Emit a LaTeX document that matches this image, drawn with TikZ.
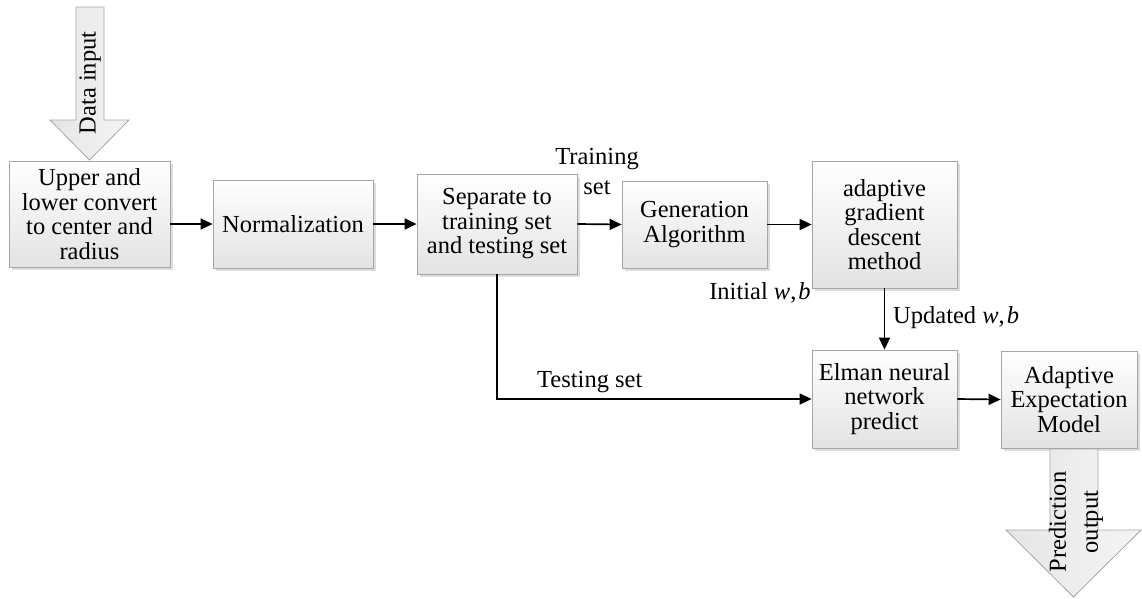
\documentclass[tikz,border=0pt]{standalone}
\usepackage{fontspec}
\setmainfont{Liberation Serif}
\usetikzlibrary{arrows.meta,shadows}

\tikzset{
  procbox/.style={draw=black!35, line width=0.8pt, top color=white, bottom color=black!11,
    drop shadow={shadow xshift=3pt, shadow yshift=-3pt, fill=black!22, opacity=0.6},
    align=center, inner sep=0pt, font=\fontsize{24.5}{24.5}\selectfont},
  flow/.style={line width=1.7pt, -{Triangle[length=12pt,width=11pt]}},
  bigarrow/.style={draw=black!35, line width=0.8pt, left color=black!10, right color=black!4},
  lbl/.style={inner sep=0pt, font=\fontsize{24.5}{30}\selectfont, align=center},
}
\newcommand{\wb}{\textit{w},\kern2pt\textit{b}}

\begin{document}
\begin{tikzpicture}[x=1pt, y=-1pt]
\useasboundingbox (0,0) rectangle (1142,598);

% process boxes
\node[procbox, minimum width=161pt, minimum height=106pt] (b1) at (89.5,214)
  {Upper and\\lower convert\\to center and\\radius};
\node[procbox, minimum width=160pt, minimum height=88pt] (b2) at (293,224) {Normalization};
\node[procbox, minimum width=160pt, minimum height=100pt] (b3) at (497,224)
  {Separate to\\training set\\and testing set};
\node[procbox, minimum width=145pt, minimum height=87pt] (b4) at (694.5,224.5)
  {Generation\\Algorithm};
\node[procbox, minimum width=145pt, minimum height=127pt] (b5) at (884.5,224.5)
  {adaptive\\gradient\\descent\\method};
\node[procbox, minimum width=145pt, minimum height=98pt] (b6) at (884.5,399)
  {Elman neural\\network\\predict};
\node[procbox, minimum width=136pt, minimum height=97pt] (b7) at (1069,399.5)
  {Adaptive\\Expectation\\Model};

% input and output block arrows
\draw[bigarrow] (76,7) -- (104,7) -- (104,120) -- (129,120) -- (89.5,160)
  -- (50,120) -- (76,120) -- cycle;
\node[lbl, rotate=90] (din) at (90,83) {Data input};
\draw[bigarrow] (1050,449) -- (1098,449) -- (1098,530) -- (1141,530) -- (1073.5,597)
  -- (1006,530) -- (1050,530) -- cycle;
\node[lbl, rotate=90, font=\fontsize{24.5}{32}\selectfont] (dout) at (1076,522) {Prediction\\output};

% connectors
\draw[flow] (b1.east |- b2.west) -- (b2.west);
\draw[flow] (b2.east) -- (b3.west);
\draw[flow] (b3.east) -- (b4.west);
\draw[flow] (b4.east) -- (b5.west);
\draw[flow] (b5.south) -- (b6.north);
\draw[flow] (b3.south) |- (b6.west);
\draw[flow] (b6.east) -- (b7.west);

% connector labels
\node[lbl] (ltrain) at (597,172) {Training\\set};
\node[lbl] (linit) at (760,293) {Initial \wb};
\node[lbl, anchor=west] (lupd) at (893,318) {Updated \wb};
\node[lbl, anchor=west] (ltest) at (537,382) {Testing set};
\end{tikzpicture}
\end{document}
